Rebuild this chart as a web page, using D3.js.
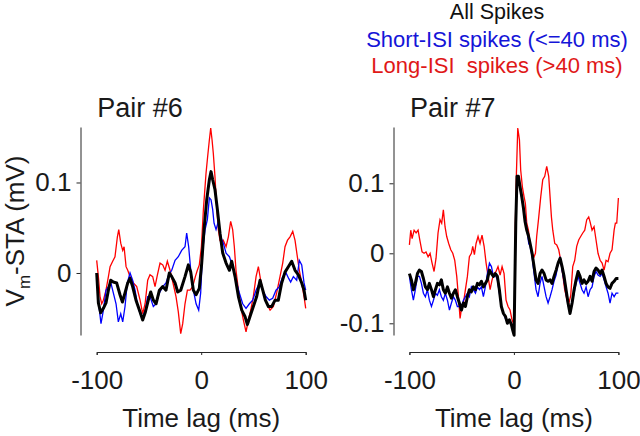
<!DOCTYPE html>
<html><head><meta charset="utf-8">
<script src="https://cdn.jsdelivr.net/npm/d3@7"></script>
<style>
html,body{margin:0;padding:0;background:#fff;}
svg{display:block;font-family:"Liberation Sans",Arial,sans-serif;}
</style></head>
<body><svg id="c" width="640" height="436"></svg>
<script>
// ---- data ----
const xTicks = [-100, 0, 100];
const yTicks6 = [0, 0.1];
const yTicks7 = [-0.1, 0, 0.1];
const titles = ["Pair #6", "Pair #7"];
const legendLabels = ["All Spikes", "Short-ISI spikes (<=40 ms)", "Long-ISI\u00A0 spikes (>40 ms)"];
const xLabel = "Time lag (ms)";

// Pair #6 : [time lag (ms), Vm-STA (mV)]
const p6All = [[-100,0.0],[-98.4,-0.033],[-96.2,-0.044],[-93.6,-0.039],[-91.1,-0.033],[-88.8,-0.019],[-86.6,-0.008],[-84.1,-0.010],[-80.9,-0.011],[-77.7,-0.024],[-75.4,-0.032],[-72.9,-0.022],[-70.3,-0.011],[-68.1,-0.006],[-65.6,-0.015],[-62.4,-0.030],[-58.5,-0.043],[-56.0,-0.052],[-53.4,-0.043],[-50.6,-0.030],[-48.3,-0.021],[-45.8,-0.030],[-43.2,-0.034],[-40.0,-0.019],[-36.8,-0.015],[-33.7,-0.019],[-30.5,0.0],[-28.2,-0.004],[-25.0,-0.011],[-22.5,-0.021],[-19.6,-0.019],[-15.5,-0.004],[-12.3,0.009],[-10.0,0.001],[-7.5,-0.019],[-4.9,-0.024],[-1.8,-0.017],[0.5,0.011],[2.7,0.048],[5.3,0.081],[7.8,0.103],[9.4,0.112],[11.0,0.103],[13.2,0.092],[15.5,0.070],[18.0,0.044],[20.6,0.022],[23.8,0.011],[27.0,0.003],[29.2,0.013],[32.4,-0.004],[35.6,-0.026],[38.8,-0.041],[41.9,-0.048],[44.2,-0.057],[46.7,-0.048],[49.9,-0.037],[53.1,-0.026],[56.3,-0.008],[58.9,-0.019],[61.4,-0.030],[64.3,-0.037],[67.5,-0.037],[70.7,-0.030],[73.8,-0.030],[77.0,-0.011],[80.2,0.001],[83.4,0.007],[86.6,0.013],[89.8,0.003],[93.0,-0.002],[96.2,-0.011],[98.4,-0.019],[100,-0.030]];
const p6Short = [[-100,-0.002],[-97.8,-0.037],[-95.9,-0.056],[-93.6,-0.041],[-91.1,-0.019],[-88.8,-0.015],[-86.6,-0.010],[-84.1,-0.022],[-81.5,-0.034],[-79.3,-0.054],[-77.0,-0.045],[-75.1,-0.054],[-72.9,-0.037],[-70.7,-0.011],[-68.1,0.0],[-65.6,-0.008],[-63.3,-0.019],[-61.1,-0.034],[-58.5,-0.045],[-56.0,-0.048],[-53.4,-0.041],[-51.2,-0.026],[-49.0,-0.026],[-45.8,-0.037],[-43.2,-0.034],[-40.0,-0.022],[-36.8,-0.015],[-33.7,-0.011],[-31.1,-0.002],[-28.2,0.003],[-25.0,0.014],[-21.9,0.018],[-18.7,0.025],[-15.5,0.029],[-13.9,0.044],[-12.0,0.029],[-10.0,0.003],[-7.5,-0.019],[-4.9,-0.034],[-2.4,-0.041],[-0.5,-0.022],[1.4,0.025],[3.7,0.048],[5.9,0.059],[7.8,0.083],[9.4,0.081],[11.0,0.070],[12.3,0.055],[14.2,0.048],[16.4,0.057],[18.7,0.040],[21.2,0.033],[23.8,0.022],[27.0,0.018],[30.1,0.007],[33.3,-0.008],[36.5,-0.022],[39.7,-0.034],[42.9,-0.039],[46.1,-0.034],[49.3,-0.030],[52.5,-0.019],[55.7,-0.011],[58.9,-0.019],[62.0,-0.026],[65.2,-0.030],[68.4,-0.028],[71.6,-0.019],[74.8,-0.015],[78.0,-0.004],[81.2,0.0],[83.7,-0.006],[85.6,-0.010],[88.2,-0.004],[91.4,-0.008],[93.9,0.014],[96.2,0.009],[98.4,-0.011],[100,-0.019]];
const p6Long = [[-100,0.014],[-98.4,-0.004],[-96.8,-0.026],[-95.2,-0.034],[-93.6,-0.030],[-91.1,-0.019],[-88.8,-0.004],[-87.2,0.007],[-84.7,0.013],[-82.5,0.018],[-80.2,0.040],[-78.9,0.048],[-77.0,0.033],[-75.1,0.025],[-73.8,0.029],[-71.9,0.007],[-70.3,0.003],[-68.1,-0.004],[-64.9,-0.011],[-61.7,-0.015],[-58.5,-0.030],[-56.0,-0.045],[-53.7,-0.034],[-51.2,-0.008],[-49.0,-0.002],[-46.4,-0.004],[-44.2,-0.015],[-41.9,-0.002],[-39.4,0.011],[-36.8,0.009],[-34.6,0.003],[-32.4,0.013],[-29.8,0.003],[-26.6,-0.013],[-24.1,-0.026],[-21.9,-0.043],[-19.6,-0.067],[-17.7,-0.056],[-15.5,-0.034],[-13.2,-0.019],[-10.7,-0.019],[-8.1,-0.015],[-5.6,-0.004],[-3.7,0.003],[-1.8,0.009],[0.2,0.029],[2.1,0.070],[4.6,0.110],[6.2,0.129],[7.8,0.147],[9.1,0.160],[10.4,0.147],[11.6,0.132],[13.2,0.106],[14.8,0.073],[16.4,0.048],[18.0,0.036],[19.6,0.033],[21.2,0.036],[23.8,0.029],[26.0,0.040],[28.2,0.057],[30.1,0.048],[31.7,0.029],[33.3,0.003],[35.6,-0.019],[37.8,-0.037],[40.4,-0.052],[42.9,-0.065],[45.1,-0.052],[47.4,-0.041],[49.9,-0.026],[52.5,-0.004],[54.7,0.007],[56.9,-0.008],[59.5,-0.022],[62.7,-0.034],[65.9,-0.041],[69.1,-0.037],[72.2,-0.022],[75.4,-0.004],[78.0,0.011],[80.2,0.029],[82.5,0.036],[85.0,0.040],[87.6,0.046],[89.8,0.036],[92.0,0.018],[93.9,0.003],[96.2,-0.011],[98.4,-0.026],[100,-0.039]];

// Pair #7
const p7All = [[-100,-0.029],[-98.1,-0.038],[-96.2,-0.052],[-94.3,-0.043],[-92.3,-0.029],[-90.4,-0.024],[-88.5,-0.026],[-86.6,-0.036],[-84.7,-0.048],[-82.8,-0.052],[-80.9,-0.043],[-78.9,-0.052],[-77.0,-0.062],[-75.1,-0.052],[-73.2,-0.043],[-71.3,-0.045],[-69.4,-0.038],[-67.5,-0.052],[-65.6,-0.057],[-63.6,-0.048],[-61.7,-0.057],[-59.8,-0.064],[-57.9,-0.057],[-56.0,-0.052],[-54.1,-0.062],[-52.2,-0.071],[-50.2,-0.081],[-48.3,-0.071],[-46.4,-0.076],[-44.5,-0.062],[-42.6,-0.052],[-40.7,-0.055],[-38.8,-0.048],[-36.8,-0.052],[-34.9,-0.043],[-33.0,-0.045],[-31.1,-0.040],[-29.2,-0.048],[-27.3,-0.043],[-25.4,-0.038],[-23.4,-0.024],[-21.5,-0.029],[-19.6,-0.033],[-17.7,-0.029],[-15.8,-0.033],[-13.9,-0.052],[-12.0,-0.076],[-10.0,-0.086],[-8.1,-0.090],[-6.2,-0.100],[-4.3,-0.095],[-2.4,-0.102],[-1.1,-0.110],[0.2,-0.117],[0.8,-0.052],[1.8,0.043],[3.0,0.110],[4.3,0.110],[5.9,0.095],[7.5,0.081],[9.1,0.065],[10.7,0.045],[12.3,0.033],[13.9,0.025],[15.5,0.014],[17.4,0.0],[19.3,-0.019],[21.2,-0.038],[23.1,-0.043],[25.0,-0.029],[26.9,-0.024],[28.9,-0.029],[30.8,-0.038],[32.7,-0.040],[34.6,-0.038],[36.5,-0.043],[38.4,-0.033],[40.4,-0.024],[42.3,-0.014],[44.2,-0.007],[46.1,-0.019],[48.0,-0.033],[49.9,-0.052],[51.8,-0.071],[53.7,-0.086],[55.7,-0.071],[57.6,-0.052],[59.5,-0.038],[61.4,-0.026],[63.3,-0.033],[65.2,-0.043],[67.1,-0.038],[69.1,-0.043],[71.0,-0.040],[72.9,-0.033],[74.8,-0.040],[76.7,-0.026],[78.6,-0.021],[80.5,-0.024],[82.5,-0.029],[84.4,-0.024],[86.3,-0.033],[88.2,-0.043],[90.1,-0.048],[92.0,-0.050],[93.9,-0.043],[95.9,-0.040],[97.8,-0.036],[100,-0.036]];
const p7Short = [[-100,-0.033],[-98.1,-0.052],[-96.2,-0.067],[-94.3,-0.052],[-92.3,-0.033],[-90.4,-0.033],[-88.5,-0.043],[-86.6,-0.057],[-84.7,-0.062],[-82.8,-0.052],[-80.9,-0.067],[-78.9,-0.076],[-77.0,-0.067],[-75.1,-0.057],[-73.2,-0.060],[-71.3,-0.052],[-69.4,-0.062],[-67.5,-0.067],[-65.6,-0.057],[-63.6,-0.067],[-61.7,-0.081],[-59.8,-0.071],[-57.9,-0.062],[-56.0,-0.067],[-54.1,-0.076],[-52.2,-0.076],[-50.2,-0.076],[-48.3,-0.067],[-46.4,-0.062],[-44.5,-0.057],[-42.6,-0.062],[-40.7,-0.048],[-38.8,-0.052],[-36.8,-0.057],[-34.9,-0.048],[-33.0,-0.052],[-31.1,-0.048],[-29.2,-0.062],[-27.3,-0.048],[-25.4,-0.029],[-23.4,-0.014],[-21.5,-0.019],[-19.6,-0.033],[-17.7,-0.031],[-15.8,-0.038],[-13.9,-0.057],[-12.0,-0.076],[-10.0,-0.086],[-8.1,-0.093],[-6.2,-0.098],[-4.3,-0.095],[-2.4,-0.100],[-1.1,-0.105],[0.2,-0.110],[1.1,-0.033],[2.1,0.067],[3.3,0.105],[4.6,0.105],[6.2,0.090],[7.8,0.076],[9.4,0.062],[11.0,0.048],[12.6,0.033],[14.2,0.014],[15.5,0.010],[17.4,-0.005],[19.3,-0.029],[21.2,-0.052],[23.1,-0.062],[25.0,-0.043],[26.9,-0.033],[28.9,-0.048],[30.8,-0.062],[32.7,-0.071],[34.6,-0.062],[36.5,-0.052],[38.4,-0.040],[40.4,-0.031],[42.3,-0.014],[44.2,-0.005],[46.1,-0.024],[48.0,-0.040],[49.9,-0.057],[51.8,-0.074],[53.7,-0.083],[55.7,-0.071],[57.6,-0.057],[59.5,-0.043],[61.4,-0.033],[63.3,-0.043],[65.2,-0.052],[67.1,-0.057],[69.1,-0.048],[71.0,-0.062],[72.9,-0.052],[74.8,-0.048],[76.7,-0.033],[78.6,-0.026],[80.5,-0.031],[82.5,-0.033],[84.4,-0.029],[86.3,-0.038],[88.2,-0.048],[90.1,-0.057],[92.0,-0.071],[93.9,-0.057],[95.9,-0.062],[97.8,-0.057],[100,-0.057]];
const p7Long = [[-100,0.012],[-98.7,0.033],[-97.4,0.021],[-95.5,0.033],[-93.6,0.029],[-91.7,0.033],[-89.8,0.017],[-87.9,0.002],[-86.0,0.0],[-84.1,0.002],[-82.1,-0.005],[-80.2,0.0],[-78.3,-0.014],[-76.4,-0.026],[-74.5,-0.007],[-72.6,0.029],[-70.7,0.048],[-69.1,0.043],[-67.5,0.062],[-65.9,0.038],[-64.3,0.024],[-62.4,0.014],[-60.4,0.005],[-58.5,0.0],[-56.6,-0.010],[-54.7,-0.033],[-53.1,-0.062],[-51.5,-0.093],[-49.9,-0.076],[-48.3,-0.071],[-46.4,-0.052],[-44.5,-0.033],[-42.6,-0.005],[-40.7,0.0],[-39.4,0.010],[-37.8,-0.002],[-36.2,0.014],[-34.3,0.024],[-32.4,0.014],[-30.5,0.026],[-28.5,0.010],[-26.6,-0.014],[-24.7,-0.033],[-22.8,-0.052],[-20.9,-0.038],[-19.0,-0.029],[-17.1,-0.026],[-15.2,-0.019],[-13.2,-0.031],[-11.3,-0.019],[-9.4,-0.029],[-7.5,-0.067],[-5.6,-0.076],[-3.7,-0.081],[-1.8,-0.095],[-0.5,-0.100],[0.5,-0.090],[1.4,0.043],[2.4,0.114],[3.7,0.179],[5.3,0.162],[6.5,0.119],[8.1,0.095],[9.7,0.081],[11.0,0.071],[12.3,0.043],[13.9,0.033],[15.5,0.014],[17.4,0.0],[19.3,-0.005],[20.6,0.0],[21.8,0.024],[23.8,0.052],[25.7,0.081],[27.6,0.105],[29.5,0.110],[31.4,0.124],[33.3,0.110],[34.6,0.081],[35.9,0.052],[37.2,0.033],[39.1,0.014],[41.0,0.012],[42.9,0.005],[44.8,-0.010],[46.7,-0.030],[48.6,-0.052],[50.6,-0.065],[52.5,-0.072],[54.4,-0.060],[56.3,-0.019],[58.2,-0.010],[60.1,0.010],[62.0,0.019],[63.9,0.024],[65.9,0.029],[67.8,0.033],[69.7,0.048],[71.6,0.052],[72.9,0.045],[74.8,0.033],[76.7,0.038],[78.6,0.019],[80.5,0.0],[82.5,-0.010],[84.4,-0.014],[86.3,-0.024],[88.2,-0.010],[90.1,-0.012],[92.0,0.0],[93.9,0.005],[95.9,0.033],[97.1,0.043],[98.4,0.043],[100,0.079]];

// ---- drawing ----
const svg = d3.select("#c");
const TXT = "#1a1a1a";
const RED = "#ff0000", BLUE = "#0000ff";
const hyph = s => String(s).replace("\u2212", "-");

function panel(opt) {
  const x = d3.scaleLinear().domain([-100, 100]).range([opt.x0, opt.x1]);
  const y = d3.scaleLinear().domain(opt.yDom).range([335, 127]);
  const g = svg.append("g");

  const ya = g.append("g").attr("transform", `translate(${opt.yAxisX},0)`)
    .call(d3.axisLeft(y).tickValues(opt.yTicks).tickSize(4).tickSizeOuter(0).tickPadding(5)
      .tickFormat(d => hyph(d === 0 ? "0" : String(+d.toFixed(2)))));
  const xa = g.append("g").attr("transform", "translate(0,352)")
    .call(d3.axisBottom(x).tickValues(xTicks).tickSize(3).tickSizeOuter(3).tickPadding(16)
      .tickFormat(d => hyph(d3.format("d")(d))));
  [ya, xa].forEach(a => {
    a.selectAll("path,line").attr("stroke", "#262626").attr("stroke-width", 1);
    a.selectAll("text").attr("fill", TXT).attr("font-size", 26)
      .attr("font-family", '"Liberation Sans", Arial, sans-serif');
  });

  const line = d3.line().x(d => x(d[0])).y(d => y(d[1]));
  g.append("path").datum(opt.long).attr("d", line).attr("fill", "none").attr("stroke", RED).attr("stroke-width", 1.3);
  g.append("path").datum(opt.short).attr("d", line).attr("fill", "none").attr("stroke", BLUE).attr("stroke-width", 1.3);
  g.append("path").datum(opt.all).attr("d", line).attr("fill", "none").attr("stroke", "#000").attr("stroke-width", 3)
    .attr("stroke-linejoin", "round");

  g.append("text").attr("x", opt.x0 + 0.5).attr("y", 117).attr("font-size", 27).attr("fill", TXT).text(opt.title);
  g.append("text").attr("x", (opt.x0 + opt.x1) / 2).attr("y", 427).attr("text-anchor", "middle")
    .attr("font-size", 26).attr("fill", TXT).text(xLabel);
}

panel({x0: 96.7, x1: 305.7, yAxisX: 80.5, yDom: [-0.0685, 0.1613], yTicks: yTicks6,
       all: p6All, short: p6Short, long: p6Long, title: titles[0]});
panel({x0: 409.4, x1: 618.4, yAxisX: 393.5, yDom: [-0.1167, 0.1804], yTicks: yTicks7,
       all: p7All, short: p7Short, long: p7Long, title: titles[1]});

// y label
const yl = svg.append("text").attr("transform", "translate(24,231) rotate(-90)")
  .attr("text-anchor", "middle").attr("font-size", 26).attr("fill", TXT);
yl.append("tspan").text("V");
yl.append("tspan").attr("font-size", 17).attr("dy", 6).text("m");
yl.append("tspan").attr("dy", -6).text("-STA (mV)");

// legend
const lg = svg.append("g").attr("text-anchor", "middle").attr("font-size", 22);
lg.append("text").attr("x", 497).attr("y", 18.5).attr("fill", "#111").attr("font-size", 21.5).text(legendLabels[0]);
lg.append("text").attr("x", 497).attr("y", 47).attr("fill", "#1515d8").text(legendLabels[1]);
lg.append("text").attr("x", 497).attr("y", 73).attr("fill", "#e01818").text(legendLabels[2]);
</script></body></html>
